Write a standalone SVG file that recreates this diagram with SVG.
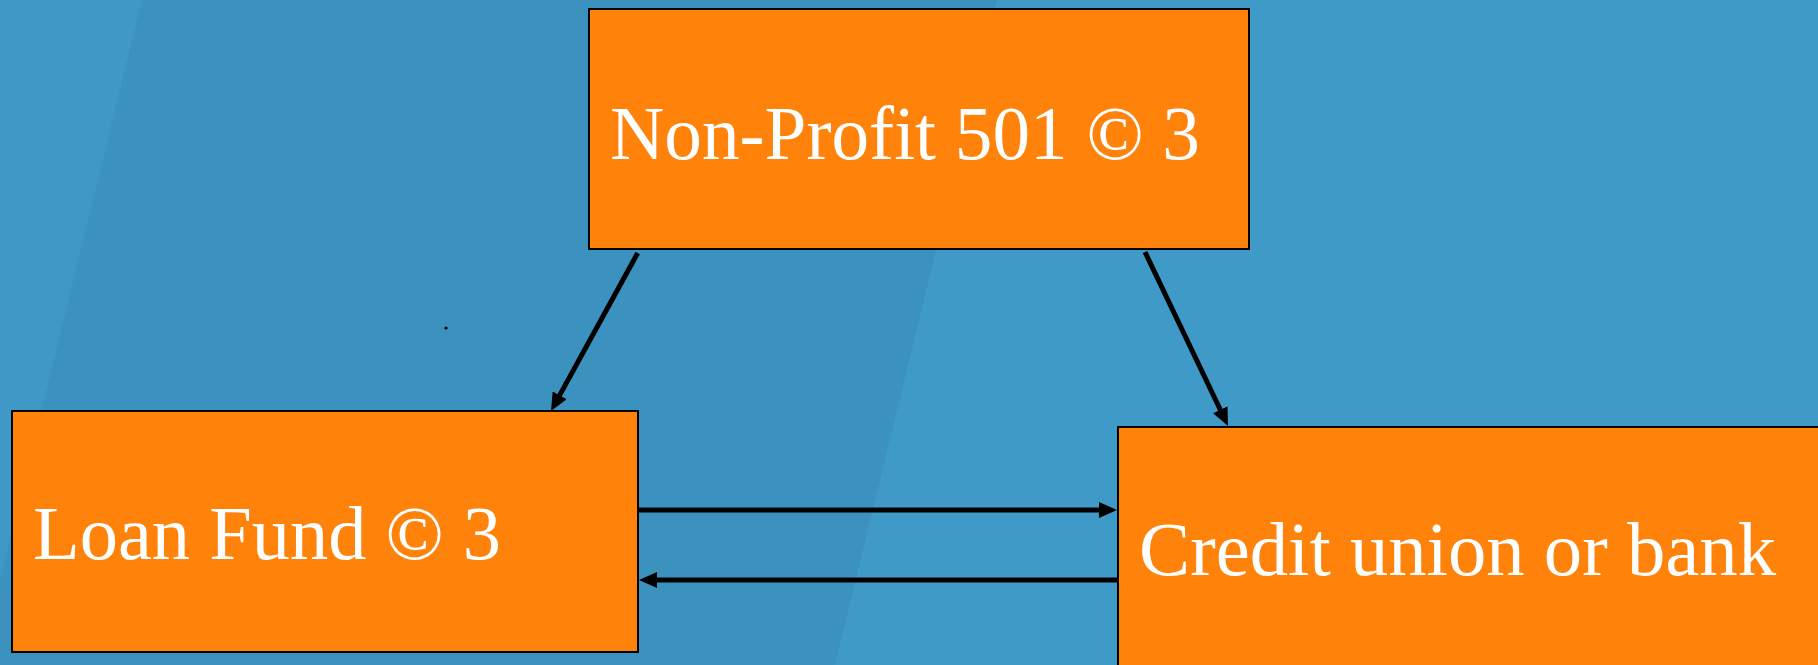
<svg xmlns="http://www.w3.org/2000/svg" width="1818" height="665" viewBox="0 0 1818 665">
  <defs>
    <style>
      .box { fill: #FF820A; stroke: #000; stroke-width: 2; }
      .label { font-family: "Liberation Serif", "DejaVu Serif", serif; font-size: 77px; fill: #FFFFFF; }
      .conn { stroke: #000; stroke-width: 5; fill: none; marker-end: url(#head); }
    </style>
    <marker id="head" markerUnits="userSpaceOnUse" markerWidth="18" markerHeight="16" refX="7" refY="8" orient="auto">
      <path d="M0,0 L18,8 L0,16 z" fill="#000"/>
    </marker>
  </defs>

  <!-- backdrop with soft diagonal light bands -->
  <rect x="0" y="0" width="1818" height="665" fill="#3B92BE"/>
  <polygon points="0,0 142,0 0,580" fill="#3F98C6"/>
  <polygon points="997,0 1818,0 1818,665 835,665" fill="#409AC8"/>
  <circle cx="446" cy="328" r="1.6" fill="#000"/>

  <g id="connectors">
    <path class="conn" d="M637.7,253 L556.3,401.4"/>
    <path class="conn" d="M1145,252 L1223.3,416"/>
    <path class="conn" d="M638,510 L1106,510"/>
    <path class="conn" d="M1118,580 L650,580"/>
  </g>

  <g id="nonprofit">
    <rect class="box" x="589" y="9" width="660" height="240"/>
    <text class="label" x="610" y="159" textLength="590" lengthAdjust="spacingAndGlyphs">Non-Profit 501 © 3</text>
  </g>

  <g id="loan-fund">
    <rect class="box" x="12" y="411" width="626" height="241"/>
    <text class="label" x="33" y="559" textLength="468" lengthAdjust="spacingAndGlyphs">Loan Fund © 3</text>
  </g>

  <g id="credit-union">
    <rect class="box" x="1118" y="427" width="710" height="250"/>
    <text class="label" x="1139" y="575" textLength="637" lengthAdjust="spacingAndGlyphs">Credit union or bank</text>
  </g>
</svg>
